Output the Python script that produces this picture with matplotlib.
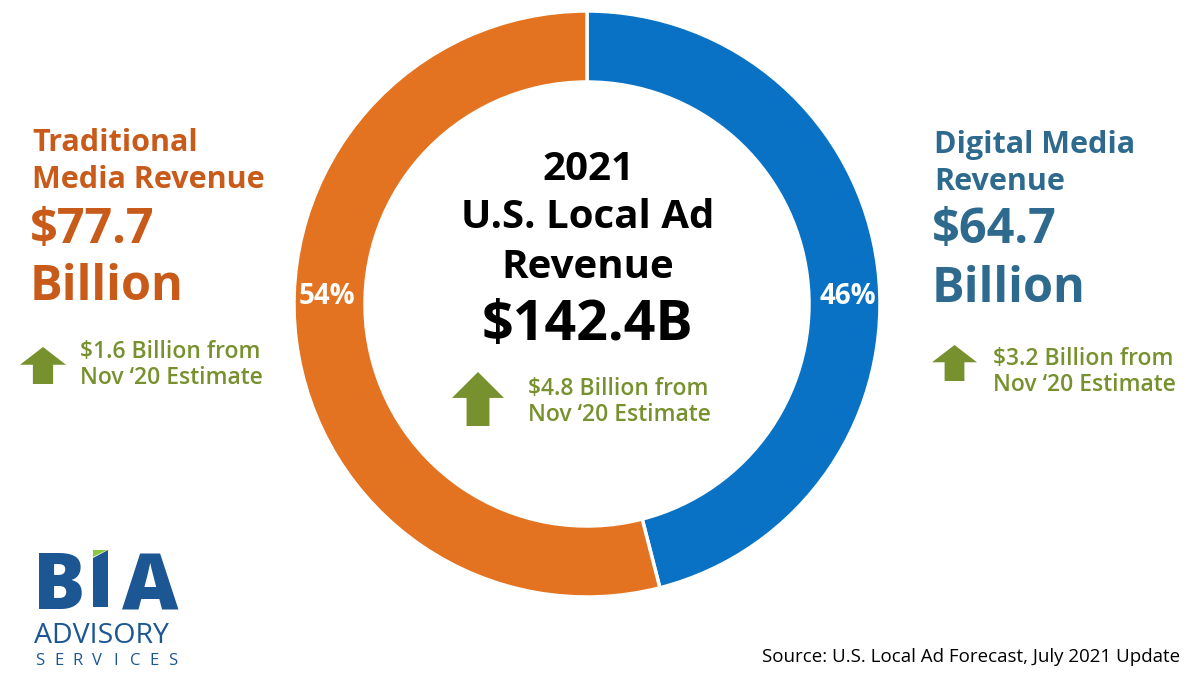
import matplotlib
matplotlib.use("Agg")
import matplotlib.pyplot as plt
from matplotlib.patches import Polygon

plt.rcParams['font.family'] = ['Open Sans', 'DejaVu Sans']

# ---- data ----
categories = ["Digital Media Revenue", "Traditional Media Revenue"]
shares = [46, 54]
share_labels = ["46%", "54%"]
totals = ["$64.7", "$77.7"]
changes = ["$3.2 Billion from", "$1.6 Billion from"]
total_text = "$142.4B"
total_change = "$4.8 Billion from"
colors = ["#0A72C4", "#E37320"]

ORANGE_TXT = "#C85A1A"
BLUE_TXT = "#2E6A8E"
GREEN = "#76912E"
LOGO_BLUE = "#1C5794"

fig = plt.figure(figsize=(12, 6.75), dpi=100)
ax = fig.add_axes([0, 0, 1, 1])

cx, cy, R = 587, 304, 293
# y axis is inverted below, so start at -90 and go counterclockwise in data
# space, which reads as clockwise from the top on screen.
wedges, _ = ax.pie(shares, colors=colors, startangle=-90, counterclock=True,
                   center=(cx, cy), radius=R, frame=True,
                   wedgeprops=dict(width=71, edgecolor='white', linewidth=2.5))
ax.set_xlim(0, 1200)
ax.set_ylim(675, 0)
ax.set_aspect('equal')
ax.axis('off')

ax.text(848, 297, share_labels[0], color='white', fontsize=20, fontweight='bold', ha='center', va='center')
ax.text(327, 297, share_labels[1], color='white', fontsize=20, fontweight='bold', ha='center', va='center')

# center text
ax.text(588, 170, "2021", fontsize=29, fontweight='bold', ha='center', va='center', color='black')
ax.text(588, 218, "U.S. Local Ad", fontsize=29, fontweight='bold', ha='center', va='center', color='black')
ax.text(588, 268, "Revenue", fontsize=29, fontweight='bold', ha='center', va='center', color='black')
ax.text(587, 325, total_text, fontsize=40, fontweight='bold', ha='center', va='center', color='black')

# left block
ax.text(32, 143, "Traditional", fontsize=22, fontweight='bold', ha='left', va='center', color=ORANGE_TXT)
ax.text(32, 180, "Media Revenue", fontsize=22, fontweight='bold', ha='left', va='center', color=ORANGE_TXT)
ax.text(30, 230, totals[1], fontsize=35, fontweight='bold', ha='left', va='center', color=ORANGE_TXT)
ax.text(30, 288, "Billion", fontsize=35, fontweight='bold', ha='left', va='center', color=ORANGE_TXT)

# right block
ax.text(934, 145, "Digital Media", fontsize=22, fontweight='bold', ha='left', va='center', color=BLUE_TXT)
ax.text(934, 182, "Revenue", fontsize=22, fontweight='bold', ha='left', va='center', color=BLUE_TXT)
ax.text(932, 231, totals[0], fontsize=35, fontweight='bold', ha='left', va='center', color=BLUE_TXT)
ax.text(932, 289, "Billion", fontsize=35, fontweight='bold', ha='left', va='center', color=BLUE_TXT)


def up_arrow(x0, y0, w, h):
    # x0,y0 = top-left of bounding box, y downward
    sw = w * 0.44
    hh = h * 0.48
    pts = [(x0 + w / 2, y0), (x0 + w, y0 + hh), (x0 + w / 2 + sw / 2, y0 + hh),
           (x0 + w / 2 + sw / 2, y0 + h), (x0 + w / 2 - sw / 2, y0 + h),
           (x0 + w / 2 - sw / 2, y0 + hh), (x0, y0 + hh)]
    ax.add_patch(Polygon(pts, closed=True, color=GREEN, lw=0))


GFS = 16.5
up_arrow(20, 347, 46, 37)
ax.text(80, 352, changes[1], fontsize=GFS, fontweight='semibold', ha='left', va='center', color=GREEN)
ax.text(80, 378, "Nov \u201820 Estimate", fontsize=GFS, fontweight='semibold', ha='left', va='center', color=GREEN)

up_arrow(452, 372, 52, 54)
ax.text(528, 389, total_change, fontsize=GFS, fontweight='semibold', ha='left', va='center', color=GREEN)
ax.text(528, 415, "Nov \u201820 Estimate", fontsize=GFS, fontweight='semibold', ha='left', va='center', color=GREEN)

up_arrow(932, 345, 45, 36)
ax.text(993, 359, changes[0], fontsize=GFS, fontweight='semibold', ha='left', va='center', color=GREEN)
ax.text(993, 385, "Nov \u201820 Estimate", fontsize=GFS, fontweight='semibold', ha='left', va='center', color=GREEN)

ax.text(1180, 657, "Source: U.S. Local Ad Forecast, July 2021 Update", fontsize=13.5,
        ha='right', va='center', color='black')

# logo
ax.text(33, 609, "B", fontsize=56, fontweight='heavy', ha='left', va='baseline', color=LOGO_BLUE)
ax.add_patch(Polygon([(93, 558), (108, 550), (108, 607), (93, 607)], closed=True, color=LOGO_BLUE, lw=0))
ax.add_patch(Polygon([(93, 550), (107, 550), (93, 557)], closed=True, color="#8DC63F", lw=0))
ax.text(178, 609, "A", fontsize=56, fontweight='heavy', ha='right', va='baseline', color=LOGO_BLUE)
ax.text(34, 636, "ADVISORY", fontsize=20.5, ha='left', va='center', color=LOGO_BLUE)
for i, ch in enumerate("SERVICES"):
    ax.text(40 + i * 19.0, 661, ch, fontsize=12, ha='center', va='center', color=LOGO_BLUE)

fig.savefig("out.png", dpi=100)
